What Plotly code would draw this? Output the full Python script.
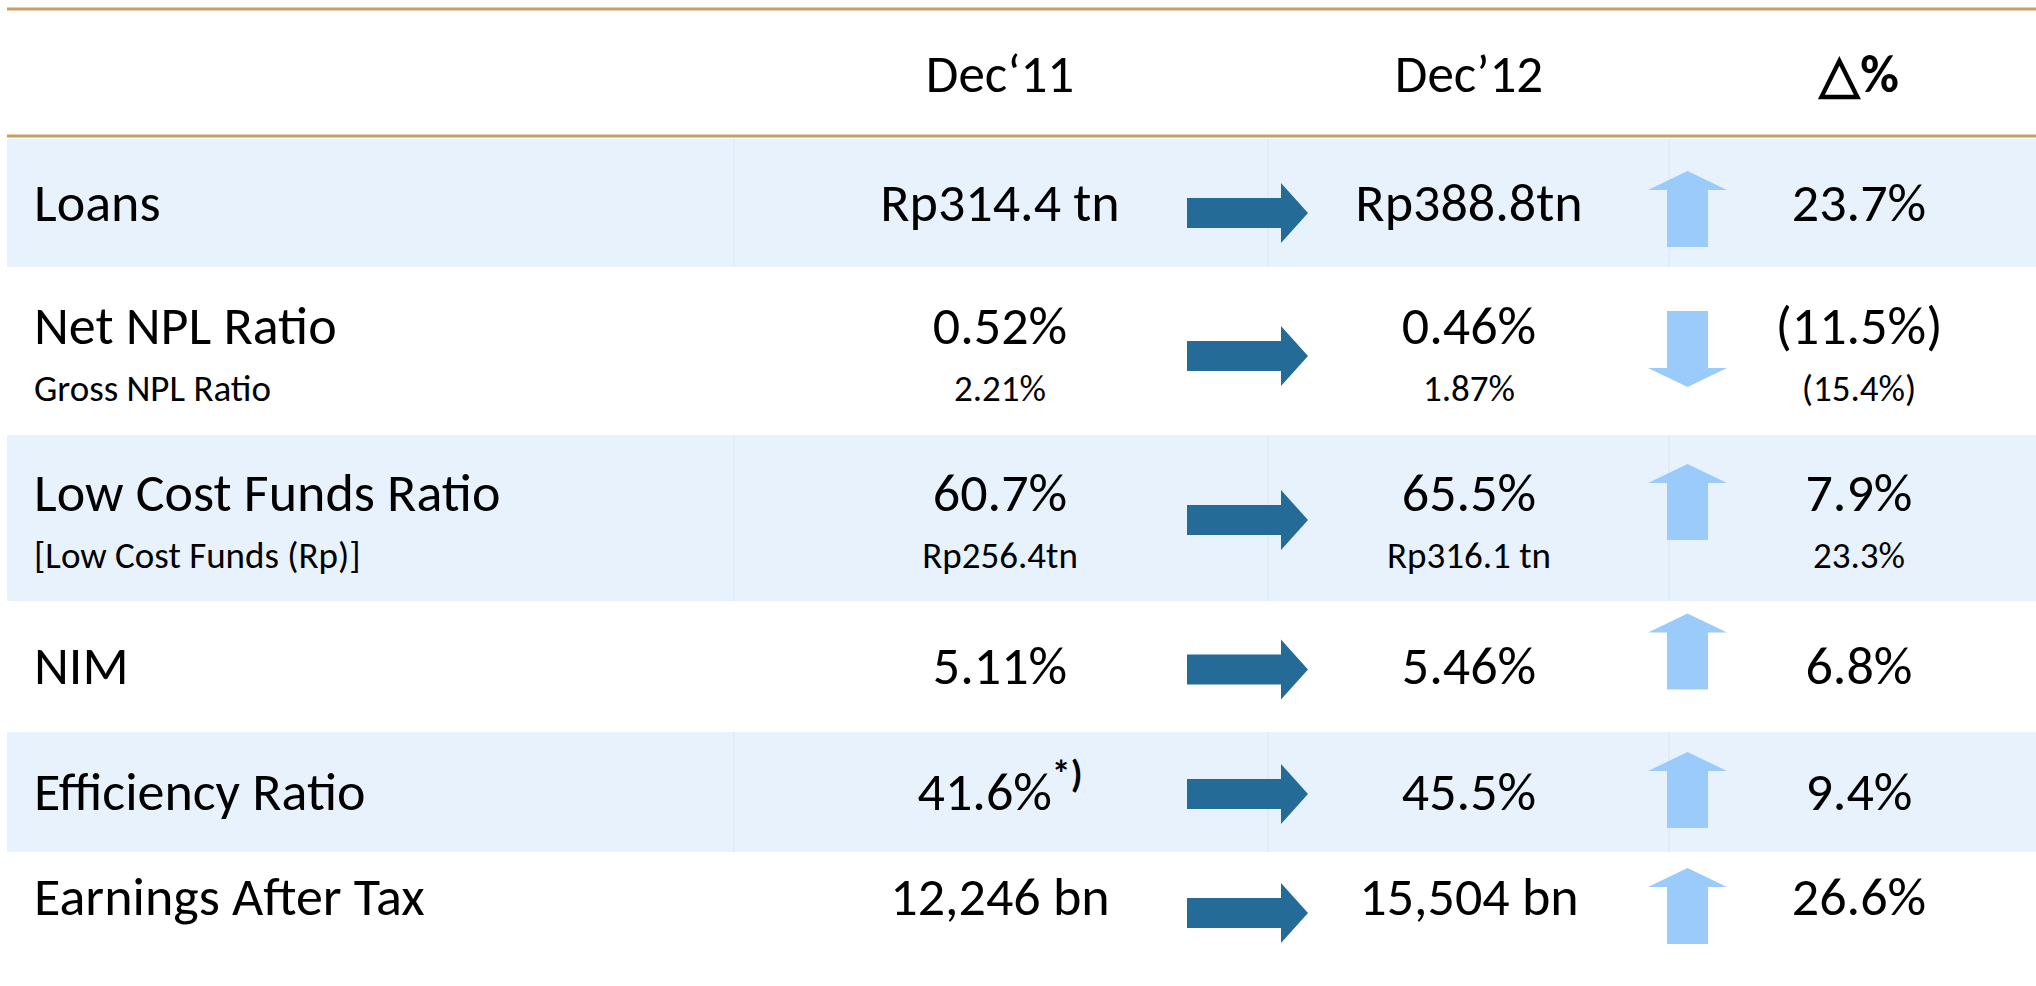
import plotly.graph_objects as go

# ---------------- data ----------------
columns = ["Dec\u201811", "Dec\u201912", "\u25b3%"]
metrics = ["Loans", "Net NPL Ratio", "Low Cost Funds Ratio", "NIM", "Efficiency Ratio", "Earnings After Tax"]
sub_metrics = ["", "Gross NPL Ratio", "[Low Cost Funds (Rp)]", "", "", ""]
dec11 = ["Rp314.4 tn", "0.52%", "60.7%", "5.11%", "41.6%<sup><b>*)</b></sup>", "12,246 bn"]
dec11_sub = ["", "2.21%", "Rp256.4tn", "", "", ""]
dec12 = ["Rp388.8tn", "0.46%", "65.5%", "5.46%", "45.5%", "15,504 bn"]
dec12_sub = ["", "1.87%", "Rp316.1 tn", "", "", ""]
delta = ["23.7%", "(11.5%)", "7.9%", "6.8%", "9.4%", "26.6%"]
delta_sub = ["", "(15.4%)", "23.3%", "", "", ""]
trend = ["up", "down", "up", "up", "up", "up"]

# ---------------- layout constants ----------------
W, H = 2036, 986
FONT = "Carlito, Calibri, Lato, sans-serif"
MAIN_SIZE = 54
HEAD_SIZE = 53
SUB_SIZE = 37
BAND = "#E8F2FD"
SEP = "#D8E6F5"
RULE = "#C89F62"
DARK = "#246C97"
LIGHT = "#9BCBFB"

row_edges = [137, 267, 433, 601, 730, 852, 940]
left_x = 7
label_x = 34
col_x = [1000, 1469, 1859]
sep_x = [734, 1268, 1669]
dark_nudge = [11, 6, 3, 4, 3, 17]
light_nudge = [7, -1, -15, -14, -1, 10]
text_shift = 4

n = len(metrics)
centers = [(row_edges[i] + row_edges[i + 1]) / 2 for i in range(n)]
main_y, sub_y = [], []
for i in range(n):
    if sub_metrics[i]:
        main_y.append(centers[i] - 24 + text_shift)
        sub_y.append(centers[i] + 38 + text_shift)
    else:
        main_y.append(centers[i] + 1 + text_shift)
        sub_y.append(None)

fig = go.Figure()

shapes = []
# bands on alternate rows
for i in range(n):
    if i % 2 == 0:
        y0, y1 = row_edges[i] + 2, row_edges[i + 1]
        shapes.append(dict(type="rect", x0=left_x, x1=W, y0=y0, y1=y1,
                           fillcolor=BAND, line=dict(width=0), layer="below"))
        for sx in sep_x:
            shapes.append(dict(type="line", x0=sx, x1=sx, y0=y0, y1=y1,
                               line=dict(color=SEP, width=1), layer="below"))
# rules
for ry in [9, 136]:
    shapes.append(dict(type="line", x0=left_x, x1=W, y0=ry, y1=ry,
                       line=dict(color=RULE, width=3)))

# arrows
for i in range(n):
    cy = centers[i] + dark_nudge[i]
    x0, xh, x1 = 1187, 1281, 1308
    p = (f"M{x0},{cy-15} L{xh},{cy-15} L{xh},{cy-30} L{x1},{cy} "
         f"L{xh},{cy+30} L{xh},{cy+15} L{x0},{cy+15} Z")
    shapes.append(dict(type="path", path=p, fillcolor=DARK, line=dict(width=0)))

    ly = centers[i] + light_nudge[i]
    cx, hw, sw = 1687.5, 39.5, 20.5
    top, bot = ly - 38, ly + 38
    if trend[i] == "up":
        p = (f"M{cx},{top} L{cx+hw},{top+19} L{cx+sw},{top+19} L{cx+sw},{bot} "
             f"L{cx-sw},{bot} L{cx-sw},{top+19} L{cx-hw},{top+19} Z")
    else:
        p = (f"M{cx},{bot} L{cx+hw},{bot-19} L{cx+sw},{bot-19} L{cx+sw},{top} "
             f"L{cx-sw},{top} L{cx-sw},{bot-19} L{cx-hw},{bot-19} Z")
    shapes.append(dict(type="path", path=p, fillcolor=LIGHT, line=dict(width=0)))

# header
fig.add_trace(go.Scatter(
    x=col_x, y=[75 + text_shift] * 3, mode="text",
    text=[columns[0], columns[1], "<b>" + columns[2] + "</b>"],
    textposition="middle center",
    textfont=dict(family=FONT, size=HEAD_SIZE, color="black"),
    hoverinfo="skip", showlegend=False))

# labels
fig.add_trace(go.Scatter(
    x=[label_x] * n, y=main_y, mode="text", text=metrics,
    textposition="middle right",
    textfont=dict(family=FONT, size=MAIN_SIZE, color="black"),
    hoverinfo="skip", showlegend=False))
idx = [i for i in range(n) if sub_metrics[i]]
fig.add_trace(go.Scatter(
    x=[label_x] * len(idx), y=[sub_y[i] for i in idx], mode="text",
    text=[sub_metrics[i] for i in idx],
    textposition="middle right",
    textfont=dict(family=FONT, size=SUB_SIZE, color="black"),
    hoverinfo="skip", showlegend=False))

# values
for cx, main_vals, sub_vals in zip(col_x, [dec11, dec12, delta], [dec11_sub, dec12_sub, delta_sub]):
    fig.add_trace(go.Scatter(
        x=[cx] * n, y=main_y, mode="text", text=main_vals,
        textposition="middle center",
        textfont=dict(family=FONT, size=MAIN_SIZE, color="black"),
        hoverinfo="skip", showlegend=False))
    fig.add_trace(go.Scatter(
        x=[cx] * len(idx), y=[sub_y[i] for i in idx], mode="text",
        text=[sub_vals[i] for i in idx],
        textposition="middle center",
        textfont=dict(family=FONT, size=SUB_SIZE, color="black"),
        hoverinfo="skip", showlegend=False))

fig.update_layout(
    width=W, height=H,
    margin=dict(l=0, r=0, t=0, b=0),
    paper_bgcolor="white", plot_bgcolor="white",
    xaxis=dict(range=[0, W], visible=False, fixedrange=True),
    yaxis=dict(range=[H, 0], visible=False, fixedrange=True),
    shapes=shapes,
)

fig.write_html("out.html", config={"displayModeBar": False},
               post_script="document.body.style.margin='0';")
